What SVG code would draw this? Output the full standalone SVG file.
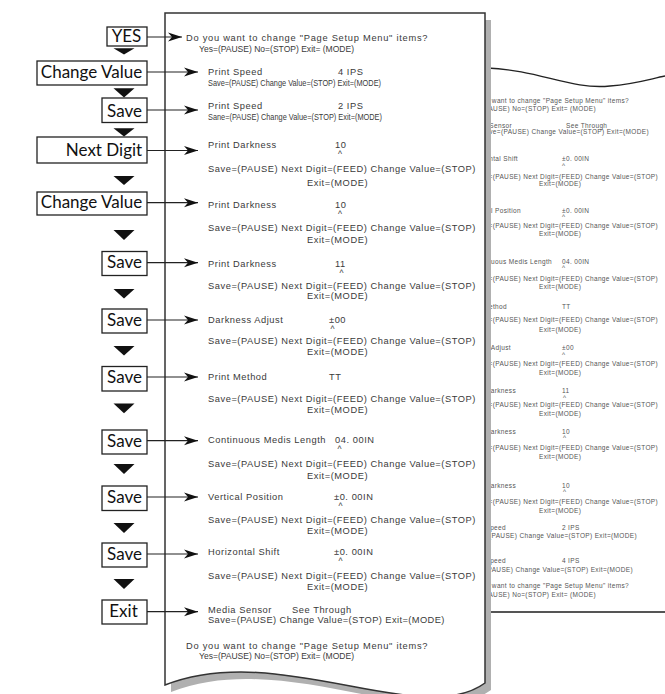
<svg xmlns="http://www.w3.org/2000/svg" width="665" height="694" viewBox="0 0 665 694">
<defs>
<style>
.t{font-family:"Liberation Sans",Arial,sans-serif;font-size:9.3px;letter-spacing:0.55px;fill:#3a3a3a}
.c{letter-spacing:0}
.k{font-size:8.5px}
.r{font-family:"Liberation Sans",Arial,sans-serif;font-size:6.5px;letter-spacing:0.35px;fill:#555}
.e{text-anchor:end}
.btn rect{fill:#fff;stroke:#222;stroke-width:1.3}
.btn text{font-family:Lato,"Open Sans",sans-serif;font-size:17px;fill:#111;text-anchor:middle}
.tri{fill:#111}
.conn line{stroke:#222;stroke-width:1.2}
</style>
<marker id="ah" viewBox="0 0 14 10" refX="14" refY="5" markerWidth="14" markerHeight="10" markerUnits="userSpaceOnUse" orient="auto">
<path d="M0,0.5 L14,5 L0,9.5 L4,5 Z" fill="#111"/>
</marker>
</defs>
<rect width="665" height="694" fill="#fff"/>

<g id="back-paper">
<path d="M487,68 C540,70 570,90 610,86 C635,84 650,79 665,76" fill="none" stroke="#222" stroke-width="1.3"/>
<line x1="487" y1="612" x2="665" y2="612" stroke="#555" stroke-width="2.2"/>
<text class="r e" x="629" y="103">Do you want to change "Page Setup Menu" items?</text>
<text class="r e" x="596" y="111">Yes=(PAUSE) No=(STOP) Exit= (MODE)</text>
<text class="r e" x="512" y="128">Media Sensor</text><text class="r" x="566" y="128">See Through</text>
<text class="r e" x="649" y="134">Save=(PAUSE) Change Value=(STOP) Exit=(MODE)</text>
<text class="r e" x="518" y="161">Horizontal Shift</text><text class="r" x="562" y="161">±0. 00IN</text><text class="r" x="562" y="168.4">^</text>
<text class="r e" x="658" y="179">Save=(PAUSE) Next Digit=(FEED) Change Value=(STOP)</text><text class="r" x="539" y="186">Exit=(MODE)</text>
<text class="r e" x="521" y="213">Vertical Position</text><text class="r" x="562" y="213">±0. 00IN</text><text class="r" x="562" y="219.4">^</text>
<text class="r e" x="658" y="228">Save=(PAUSE) Next Digit=(FEED) Change Value=(STOP)</text><text class="r" x="539" y="236">Exit=(MODE)</text>
<text class="r e" x="552" y="264">Continuous Medis Length</text><text class="r" x="562" y="264">04. 00IN</text><text class="r" x="562" y="270.4">^</text>
<text class="r e" x="658" y="281">Save=(PAUSE) Next Digit=(FEED) Change Value=(STOP)</text><text class="r" x="539" y="289">Exit=(MODE)</text>
<text class="r e" x="507" y="309">Print Method</text><text class="r" x="562" y="309">TT</text>
<text class="r e" x="658" y="322">Save=(PAUSE) Next Digit=(FEED) Change Value=(STOP)</text><text class="r" x="539" y="332">Exit=(MODE)</text>
<text class="r e" x="511" y="350">Darkness Adjust</text><text class="r" x="562" y="350">±00</text><text class="r" x="562" y="357.4">^</text>
<text class="r e" x="658" y="366">Save=(PAUSE) Next Digit=(FEED) Change Value=(STOP)</text><text class="r" x="539" y="375">Exit=(MODE)</text>
<text class="r e" x="516" y="393">Print Darkness</text><text class="r" x="562" y="393">11</text><text class="r" x="563" y="400.4">^</text>
<text class="r e" x="658" y="407">Save=(PAUSE) Next Digit=(FEED) Change Value=(STOP)</text><text class="r" x="539" y="416">Exit=(MODE)</text>
<text class="r e" x="516" y="434">Print Darkness</text><text class="r" x="562" y="434">10</text><text class="r" x="563" y="440.4">^</text>
<text class="r e" x="658" y="450">Save=(PAUSE) Next Digit=(FEED) Change Value=(STOP)</text><text class="r" x="539" y="459">Exit=(MODE)</text>
<text class="r e" x="516" y="488">Print Darkness</text><text class="r" x="562" y="488">10</text><text class="r" x="563" y="494.4">^</text>
<text class="r e" x="658" y="504">Save=(PAUSE) Next Digit=(FEED) Change Value=(STOP)</text><text class="r" x="539" y="513">Exit=(MODE)</text>
<text class="r e" x="506" y="530">Print Speed</text><text class="r" x="562" y="530">2 IPS</text>
<text class="r e" x="637" y="538">Save=(PAUSE) Change  Value=(STOP)  Exit=(MODE)</text>
<text class="r e" x="506" y="563">Print Speed</text><text class="r" x="562" y="563">4 IPS</text>
<text class="r e" x="633" y="572">Save=(PAUSE) Change Value=(STOP)  Exit=(MODE)</text>
<text class="r e" x="629" y="588">Do you want to change "Page Setup Menu" items?</text>
<text class="r e" x="596" y="597">Yes=(PAUSE) No=(STOP) Exit= (MODE)</text>
</g>

<g id="main-paper">
<path d="M165,13 H485 V683 C420,730 280,640 165,685 Z" transform="translate(6,7)" fill="#b0b0b0"/>
<path d="M165,13 H485 V683 C420,730 280,640 165,685 Z" fill="#fff" stroke="#333" stroke-width="1.5"/>
<text class="t" x="186" y="40.5" textLength="242">Do you want to change "Page Setup Menu" items?</text>
<text class="t c" x="199" y="52" textLength="155" lengthAdjust="spacingAndGlyphs">Yes=(PAUSE) No=(STOP) Exit= (MODE)</text>
<text class="t" x="208" y="75">Print Speed</text><text class="t" x="338" y="75">4 IPS</text>
<text class="t c" x="208" y="86" textLength="173" lengthAdjust="spacingAndGlyphs">Save=(PAUSE) Change Value=(STOP)  Exit=(MODE)</text>
<text class="t" x="208" y="109">Print Speed</text><text class="t" x="338" y="109">2 IPS</text>
<text class="t c" x="208" y="120" textLength="174" lengthAdjust="spacingAndGlyphs">Sane=(PAUSE) Change  Value=(STOP)  Exit=(MODE)</text>
<text class="t" x="208" y="148">Print Darkness</text><text class="t" x="335" y="148">10</text><text class="t k" x="338" y="157">^</text>
<text class="t" x="208" y="171.5" textLength="268">Save=(PAUSE) Next Digit=(FEED) Change Value=(STOP)</text><text class="t" x="307" y="186">Exit=(MODE)</text>
<text class="t" x="208" y="207.5">Print Darkness</text><text class="t" x="335" y="207.5">10</text><text class="t k" x="338" y="216.5">^</text>
<text class="t" x="208" y="231" textLength="268">Save=(PAUSE) Next Digit=(FEED) Change Value=(STOP)</text><text class="t" x="307" y="243">Exit=(MODE)</text>
<text class="t" x="208" y="267">Print Darkness</text><text class="t" x="335" y="267">11</text><text class="t k" x="339.5" y="276">^</text>
<text class="t" x="208" y="289" textLength="268">Save=(PAUSE) Next Digit=(FEED) Change Value=(STOP)</text><text class="t" x="307" y="299">Exit=(MODE)</text>
<text class="t" x="208" y="323">Darkness Adjust</text><text class="t" x="329" y="323">±00</text><text class="t k" x="330.5" y="332">^</text>
<text class="t" x="208" y="344" textLength="268">Save=(PAUSE) Next Digit=(FEED) Change Value=(STOP)</text><text class="t" x="307" y="355">Exit=(MODE)</text>
<text class="t" x="208" y="380">Print Method</text><text class="t" x="329" y="380">TT</text>
<text class="t" x="208" y="402" textLength="268">Save=(PAUSE) Next Digit=(FEED) Change Value=(STOP)</text><text class="t" x="307" y="413">Exit=(MODE)</text>
<text class="t" x="208" y="443">Continuous Medis Length</text><text class="t" x="335" y="443">04. 00IN</text><text class="t k" x="337.5" y="452">^</text>
<text class="t" x="208" y="467" textLength="268">Save=(PAUSE) Next Digit=(FEED) Change Value=(STOP)</text><text class="t" x="307" y="479">Exit=(MODE)</text>
<text class="t" x="208" y="500">Vertical Position</text><text class="t" x="334" y="500">±0. 00IN</text><text class="t k" x="338.5" y="509">^</text>
<text class="t" x="208" y="523" textLength="268">Save=(PAUSE) Next Digit=(FEED) Change Value=(STOP)</text><text class="t" x="307" y="534">Exit=(MODE)</text>
<text class="t" x="208" y="555">Horizontal Shift</text><text class="t" x="334" y="555">±0. 00IN</text><text class="t k" x="338.5" y="564">^</text>
<text class="t" x="208" y="579" textLength="268">Save=(PAUSE) Next Digit=(FEED) Change Value=(STOP)</text><text class="t" x="307" y="590">Exit=(MODE)</text>
<text class="t" x="208" y="613">Media Sensor</text><text class="t" x="292" y="613">See Through</text>
<text class="t" x="208" y="623" textLength="237">Save=(PAUSE)  Change  Value=(STOP)  Exit=(MODE)</text>
<text class="t" x="186" y="649" textLength="242">Do you want to change "Page Setup Menu" items?</text>
<text class="t c" x="199" y="659" textLength="155" lengthAdjust="spacingAndGlyphs">Yes=(PAUSE) No=(STOP) Exit= (MODE)</text>
</g>

<g id="n-yes" class="btn"><rect x="107" y="27" width="40" height="19"/><text x="126.5" y="42.3">YES</text></g>
<g id="n-change1" class="btn"><rect x="37" y="61" width="110" height="24"/><text x="91.5" y="78.3">Change Value</text></g>
<g id="n-save1" class="btn"><rect x="102" y="98" width="45" height="24.5"/><text x="124.5" y="116.5">Save</text></g>
<g id="n-next" class="btn"><rect x="37" y="137" width="110" height="26"/><text x="104" y="156.2">Next Digit</text></g>
<g id="n-change2" class="btn"><rect x="37" y="192" width="110" height="23"/><text x="91.5" y="208.3">Change Value</text></g>
<g id="n-save2" class="btn"><rect x="102" y="251.5" width="45" height="24"/><text x="124.5" y="268.3">Save</text></g>
<g id="n-save3" class="btn"><rect x="102" y="309" width="45" height="24"/><text x="124.5" y="325.7">Save</text></g>
<g id="n-save4" class="btn"><rect x="102" y="366.5" width="45" height="24.5"/><text x="124.5" y="383.3">Save</text></g>
<g id="n-save5" class="btn"><rect x="102" y="430" width="45" height="24"/><text x="124.5" y="446.7">Save</text></g>
<g id="n-save6" class="btn"><rect x="102" y="486" width="45" height="24.5"/><text x="124.5" y="503.3">Save</text></g>
<g id="n-save7" class="btn"><rect x="102" y="543" width="45" height="24"/><text x="124.5" y="560">Save</text></g>
<g id="n-exit" class="btn"><rect x="102" y="600" width="45" height="24"/><text x="123.5" y="616.7">Exit</text></g>

<g id="flow-triangles" class="tri">
<path d="M113.5,48.3 H134.5 L124,54.5 Z"/>
<path d="M113.5,88.3 H134.5 L124,97.5 Z"/>
<path d="M113.5,128.3 H134.5 L124,136.5 Z"/>
<path d="M113.5,176 H134.5 L124,185 Z"/>
<path d="M113.5,230 H134.5 L124,240 Z"/>
<path d="M113.5,289 H134.5 L124,298.5 Z"/>
<path d="M113.5,346 H134.5 L124,355.5 Z"/>
<path d="M113.5,403.5 H134.5 L124,413.3 Z"/>
<path d="M113.5,464 H134.5 L124,474 Z"/>
<path d="M113.5,523 H134.5 L124,533 Z"/>
<path d="M113.5,579 H134.5 L124,589 Z"/>
</g>

<g id="connectors" class="conn">
<line x1="147" y1="37" x2="182" y2="37" marker-end="url(#ah)"/>
<line x1="147" y1="72" x2="198" y2="72" marker-end="url(#ah)"/>
<line x1="147" y1="110" x2="198" y2="110" marker-end="url(#ah)"/>
<line x1="147" y1="150.5" x2="198" y2="150.5" marker-end="url(#ah)"/>
<line x1="147" y1="202.7" x2="198" y2="202.7" marker-end="url(#ah)"/>
<line x1="147" y1="262.7" x2="198" y2="262.7" marker-end="url(#ah)"/>
<line x1="147" y1="320" x2="198" y2="320" marker-end="url(#ah)"/>
<line x1="147" y1="377" x2="198" y2="377" marker-end="url(#ah)"/>
<line x1="147" y1="440.7" x2="198" y2="440.7" marker-end="url(#ah)"/>
<line x1="147" y1="497" x2="198" y2="497" marker-end="url(#ah)"/>
<line x1="147" y1="554" x2="198" y2="554" marker-end="url(#ah)"/>
<line x1="147" y1="611.7" x2="198" y2="611.7" marker-end="url(#ah)"/>
</g>
</svg>
